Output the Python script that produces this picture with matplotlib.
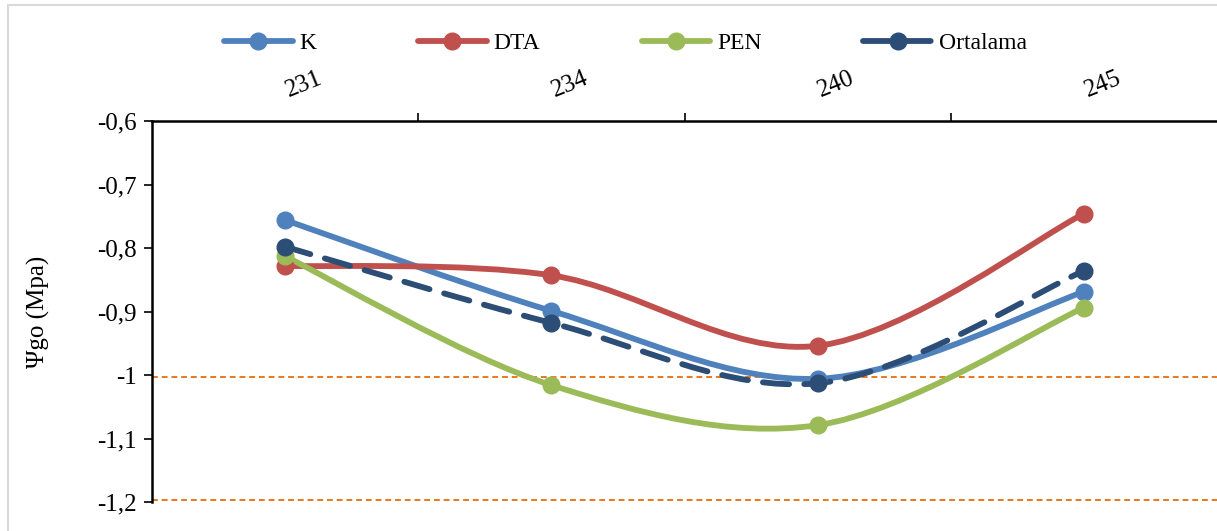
"""
Psi go chart with smoothed lines (Excel style)
"""

# LIBRARY

import matplotlib
matplotlib.use("Agg")
import matplotlib.pyplot as plt
from matplotlib.path import Path
from matplotlib.patches import PathPatch, Rectangle
from matplotlib.lines import Line2D

# DATA

categories = ['231', '234', '240', '245']
k_vals = [-0.756, -0.899, -1.006, -0.869]
dta_vals = [-0.828, -0.843, -0.954, -0.746]
pen_vals = [-0.813, -1.016, -1.079, -0.894]
ort_vals = [-0.798, -0.918, -1.013, -0.836]
ref_lines = [-1.003, -1.197]
y_ticks = [-0.6, -0.7, -0.8, -0.9, -1.0, -1.1, -1.2]
y_ticklabels = ['-0,6', '-0,7', '-0,8', '-0,9', '-1', '-1,1', '-1,2']

# FUNCTIONS

# smooth path through points (catmull-rom as bezier, like Excel)
def smooth_path(xs, ys):
    pts = list(zip(xs, ys))
    n = len(pts)
    verts = [pts[0]]
    codes = [Path.MOVETO]
    for i in range(n - 1):
        p0 = pts[max(i - 1, 0)]
        p1 = pts[i]
        p2 = pts[i + 1]
        p3 = pts[min(i + 2, n - 1)]
        c1 = (p1[0] + (p2[0] - p0[0]) / 6, p1[1] + (p2[1] - p0[1]) / 6)
        c2 = (p2[0] - (p3[0] - p1[0]) / 6, p2[1] - (p3[1] - p1[1]) / 6)
        verts += [c1, c2, p2]
        codes += [Path.CURVE4] * 3
    return Path(verts, codes)


plt.rcParams['font.family'] = ['Liberation Serif', 'DejaVu Serif']

fig = plt.figure(figsize=(12.17, 5.31), dpi=100)
ax = fig.add_axes([0.1249, 0.0546, 0.8751, 0.7175])

x = list(range(len(categories)))
series = [
    ('K', k_vals, '#4F81BD', '-'),
    ('DTA', dta_vals, '#C0504D', '-'),
    ('PEN', pen_vals, '#9BBB59', '-'),
    ('Ortalama', ort_vals, '#2C4D75', (0, (4.5, 2.6))),
]

for yv in ref_lines:
    ax.axhline(yv, color='#E8781E', lw=1.4, ls=(0, (3, 2)), zorder=1, clip_on=False)

handles = []
for name, vals, color, ls in series:
    patch = PathPatch(smooth_path(x, vals), facecolor='none', edgecolor=color,
                      lw=4.2, linestyle=ls, capstyle='round', joinstyle='round', zorder=3)
    ax.add_patch(patch)
    ax.plot(x, vals, 'o', color=color, ms=12, zorder=4)
    handles.append(Line2D([], [], color=color, lw=4.2, ls=ls, marker='o', ms=12,
                          dash_capstyle='round', solid_capstyle='round'))

ax.set_xlim(-0.5, 3.5)
ax.set_ylim(-1.2, -0.6)
ax.set_yticks(y_ticks)
ax.set_yticklabels(y_ticklabels, fontsize=18)
ax.set_xticks([i + 0.5 for i in range(len(categories) - 1)])
ax.set_xticklabels([])
ax.xaxis.set_ticks_position('top')
ax.tick_params(axis='x', direction='out', length=6, width=1.2)
ax.tick_params(axis='y', direction='out', length=6, width=1.2, pad=5)
for i, c in enumerate(categories):
    ax.text(i + 0.07, -0.543, c, rotation=22, ha='center', va='center', fontsize=18)

ax.spines['bottom'].set_visible(False)
ax.spines['right'].set_visible(False)
ax.spines['top'].set_linewidth(1.8)
ax.spines['left'].set_linewidth(1.8)
ax.set_ylabel('Ψgo (Mpa)', fontsize=18, labelpad=34)

fig.legend(handles, [s[0] for s in series], loc='center', bbox_to_anchor=(0.514, 0.919),
           ncol=4, frameon=False, fontsize=17, handlelength=2.9, columnspacing=4.3,
           handletextpad=0.3)

fig.patches.append(Rectangle((0.0066, -0.1), 1.1, 1.09, transform=fig.transFigure,
                             fill=False, edgecolor='#D9D9D9', lw=1.5))

fig.savefig('out.png', dpi=100)
